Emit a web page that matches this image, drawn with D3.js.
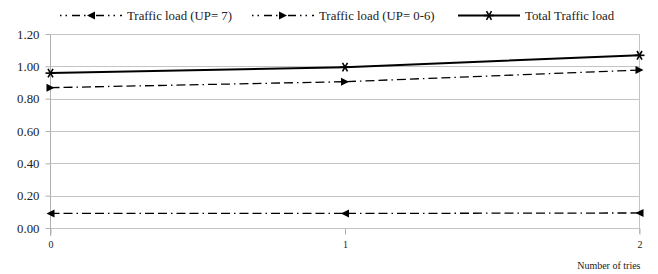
<!DOCTYPE html>
<html>
<head>
<meta charset="utf-8">
<script src="https://cdn.jsdelivr.net/npm/d3@7"></script>
<style>
  body { margin: 0; background: #fff; }
  svg text { font-family: "Liberation Serif", "Times New Roman", "DejaVu Serif", serif !important; fill: #222; }
</style>
</head>
<body>
<script>
// data
var tries = [0, 1, 2];
var loadUP7 = [0.09, 0.09, 0.093];
var loadUP06 = [0.868, 0.905, 0.977];
var loadTotal = [0.958, 0.995, 1.068];
var yTicks = [0, 0.2, 0.4, 0.6, 0.8, 1.0, 1.2];

var series = [
  {name: 'Traffic load (UP= 7)', values: loadUP7, marker: 'left', dash: '9,4,9,4,1.5,4', width: 1.3},
  {name: 'Traffic load (UP= 0-6)', values: loadUP06, marker: 'right', dash: '9,4,9,4,1.5,4', width: 1.3},
  {name: 'Total Traffic load', values: loadTotal, marker: 'star', dash: null, width: 2}
];

var w = 658, h = 274;
var plotL = 50.5, plotR = 639.5, plotT = 34, plotB = 228;
var serif = '"Liberation Serif", "Times New Roman", serif';

var svg = d3.select('body').append('svg')
  .attr('width', w)
  .attr('height', h)
  .style('font-family', serif);

var x = d3.scaleLinear().domain([0, 2]).range([plotL, plotR]);
var y = d3.scaleLinear().domain([0, 1.2]).range([plotB, plotT]);

// gridlines
svg.selectAll('.grid')
  .data(yTicks)
  .enter()
  .append('line')
  .attr('x1', plotL)
  .attr('x2', plotR)
  .attr('y1', function(d) { return Math.round(y(d)) + 0.5; })
  .attr('y2', function(d) { return Math.round(y(d)) + 0.5; })
  .attr('stroke', '#c4c4c4');

// right frame line
svg.append('line')
  .attr('x1', plotR).attr('x2', plotR)
  .attr('y1', plotT).attr('y2', plotB + 6)
  .attr('stroke', '#c4c4c4');

// y axis
var yAxis = svg.append('g')
  .attr('transform', 'translate(' + plotL + ',0)')
  .call(d3.axisLeft(y).tickValues(yTicks).tickFormat(d3.format('.2f')).tickSize(5).tickPadding(6));
yAxis.attr('font-family', serif);
yAxis.select('.domain').attr('stroke', '#b0b0b0').attr('d', 'M0,' + (Math.round(y(1.2)) + 0.5) + 'V' + (plotB + 8));
yAxis.selectAll('.tick line').attr('stroke', '#b0b0b0');
yAxis.selectAll('.tick text').style('font-size', '12.8px').style('font-family', serif);

// x axis
var xAxis = svg.append('g')
  .attr('transform', 'translate(0,' + (Math.round(y(0)) + 0.5) + ')')
  .call(d3.axisBottom(x).tickValues(tries).tickFormat(d3.format('d')).tickSize(6).tickPadding(6));
xAxis.attr('font-family', serif);
xAxis.select('.domain').remove();
xAxis.selectAll('.tick line').attr('stroke', '#b0b0b0');
xAxis.selectAll('.tick text').style('font-size', '10px').style('font-family', serif);

svg.append('text')
  .attr('x', plotR + 1)
  .attr('y', 269)
  .attr('text-anchor', 'end')
  .style('font-size', '10px')
  .style('font-family', serif)
  .text('Number of tries');

// marker shapes
var drawMarker = function(g, type, cx, cy) {
  if (type === 'left') {
    g.append('path').attr('d', 'M' + (cx - 4) + ',' + cy + 'L' + (cx + 4) + ',' + (cy - 4) + 'L' + (cx + 4) + ',' + (cy + 4) + 'Z')
      .attr('fill', '#000');
  } else if (type === 'right') {
    g.append('path').attr('d', 'M' + (cx + 4) + ',' + cy + 'L' + (cx - 4) + ',' + (cy - 4) + 'L' + (cx - 4) + ',' + (cy + 4) + 'Z')
      .attr('fill', '#000');
  } else {
    var r = 5;
    [0, 60, 120].forEach(function(a) {
      var rad = a * Math.PI / 180;
      g.append('line')
        .attr('x1', cx - r * Math.cos(rad)).attr('y1', cy - r * Math.sin(rad))
        .attr('x2', cx + r * Math.cos(rad)).attr('y2', cy + r * Math.sin(rad))
        .attr('stroke', '#000').attr('stroke-width', 1.6);
    });
  }
};

var line = d3.line()
  .x(function(d, i) { return x(tries[i]); })
  .y(function(d) { return y(d); });

series.forEach(function(s) {
  var g = svg.append('g');
  g.append('path')
    .attr('d', line(s.values))
    .attr('fill', 'none')
    .attr('stroke', '#000')
    .attr('stroke-width', s.width)
    .attr('stroke-dasharray', s.dash);
  s.values.forEach(function(v, i) {
    drawMarker(g, s.marker, x(tries[i]), y(v));
  });
});

// legend
var legendPos = [60, 252, 458];
series.forEach(function(s, i) {
  var g = svg.append('g');
  var x0 = legendPos[i], ly = 15.5;
  g.append('line')
    .attr('x1', x0).attr('x2', x0 + 62)
    .attr('y1', ly).attr('y2', ly)
    .attr('stroke', '#000')
    .attr('stroke-width', s.width)
    .attr('stroke-dasharray', s.dash ? '1.5,4,1.5,5,8,4' : null);
  drawMarker(g, s.marker, x0 + 31, ly);
  g.append('text')
    .attr('x', x0 + 67)
    .attr('y', ly + 4)
    .style('font-size', '12.8px')
    .style('font-family', serif)
    .text(s.name);
});
</script>
</body>
</html>
